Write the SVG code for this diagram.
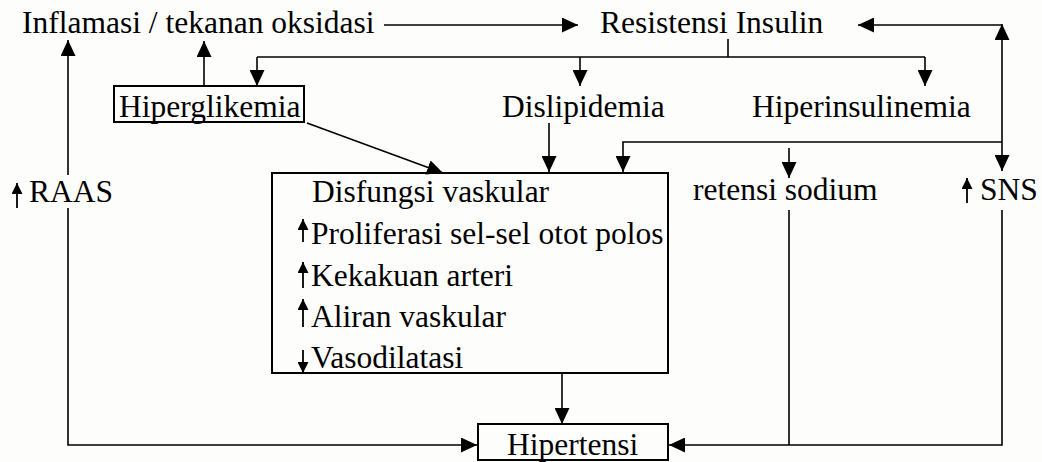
<svg xmlns="http://www.w3.org/2000/svg" width="1042" height="462" viewBox="0 0 1042 462">
<defs>
<marker id="ah" markerUnits="userSpaceOnUse" markerWidth="17" markerHeight="15" refX="16" refY="7.5" orient="auto"><path d="M0,0 L16,7.5 L0,15 z" fill="#000"/></marker>
<marker id="sm" markerUnits="userSpaceOnUse" markerWidth="12" markerHeight="11" refX="11" refY="5.5" orient="auto"><path d="M0,0 L11,5.5 L0,11 z" fill="#000"/></marker>
<style>
text{font-family:'Times New Roman','Liberation Serif','DejaVu Serif',serif;font-size:31.5px;fill:#000}
.c{fill:none;stroke:#000;stroke-width:1.6}
.a{marker-end:url(#ah)}
.s{fill:none;stroke:#000;stroke-width:1.8;marker-end:url(#sm)}
.box{fill:none;stroke:#000;stroke-width:2}
</style>
</defs>
<rect width="1042" height="462" fill="#fdfdfb"/>
<g font-family="Times New Roman, Liberation Serif, DejaVu Serif, serif" font-size="31.5">
<g id="n-inflamasi"><text x="22" y="33">Inflamasi / tekanan oksidasi</text></g>
<g id="n-resistensi"><text x="600" y="33">Resistensi Insulin</text></g>
<g id="n-hiperglikemia"><rect class="box" x="114" y="86" width="190" height="36"/><text x="119" y="117">Hiperglikemia</text></g>
<g id="n-dislipidemia"><text x="502" y="117">Dislipidemia</text></g>
<g id="n-hiperinsulinemia"><text x="752" y="117">Hiperinsulinemia</text></g>
<g id="n-raas"><line class="s" x1="17" y1="208" x2="17" y2="183"/><text x="29" y="202">RAAS</text></g>
<g id="n-retensi"><text x="693" y="200">retensi sodium</text></g>
<g id="n-sns"><line class="s" x1="967" y1="203" x2="967" y2="178"/><text x="980" y="200">SNS</text></g>
<g id="n-disfungsi">
<rect class="box" x="272" y="173" width="396" height="200"/>
<text x="312" y="202">Disfungsi vaskular</text>
<line class="s" x1="303" y1="242" x2="303" y2="219"/><text x="311" y="244">Proliferasi sel-sel otot polos</text>
<line class="s" x1="303" y1="288" x2="303" y2="262"/><text x="311" y="286">Kekakuan arteri</text>
<line class="s" x1="303" y1="327" x2="303" y2="299"/><text x="311" y="327">Aliran vaskular</text>
<line class="s" x1="303" y1="350" x2="303" y2="373"/><text x="311" y="368">Vasodilatasi</text>
</g>
<g id="n-hipertensi"><rect class="box" x="478" y="424" width="190" height="36"/><text x="507" y="455">Hipertensi</text></g>
</g>
<g id="connectors">
<line class="c a" x1="384" y1="25" x2="578" y2="25"/>
<line class="c" x1="728" y1="39" x2="728" y2="57"/>
<line class="c" x1="257" y1="57" x2="925" y2="57"/>
<line class="c a" x1="257" y1="57" x2="257" y2="86"/>
<line class="c a" x1="580" y1="57" x2="580" y2="86"/>
<line class="c a" x1="925" y1="57" x2="925" y2="86"/>
<line class="c a" x1="204" y1="86" x2="204" y2="41"/>
<line class="c a" x1="68" y1="175" x2="68" y2="40"/>
<polyline class="c a" points="68,208 68,445 477,445"/>
<line class="c a" x1="307" y1="123" x2="443" y2="173"/>
<line class="c a" x1="549" y1="123" x2="549" y2="172"/>
<polyline class="c a" points="1002,142 623,142 623,172"/>
<line class="c a" x1="789" y1="148" x2="789" y2="178"/>
<line class="c a" x1="1002" y1="142" x2="1002" y2="24"/>
<line class="c a" x1="1002" y1="142" x2="1002" y2="171"/>
<line class="c a" x1="1002" y1="25" x2="858" y2="25"/>
<line class="c" x1="789" y1="210" x2="789" y2="445"/>
<polyline class="c a" points="1002,210 1002,445 669,445"/>
<line class="c a" x1="562" y1="373" x2="562" y2="424"/>
</g>
</svg>
